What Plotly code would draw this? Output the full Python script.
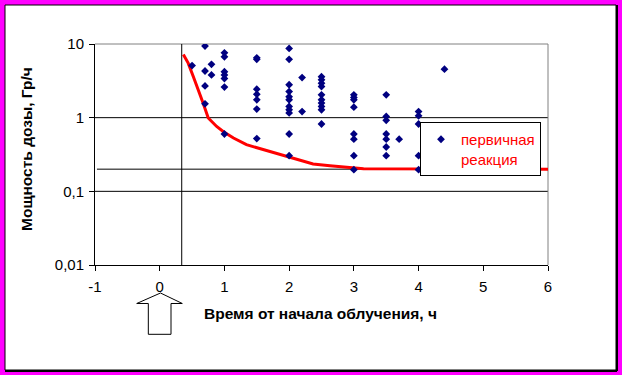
import plotly.graph_objects as go

# ---- data ----
scatter_x = [0.5,
             0.7, 0.7, 0.7, 0.7,
             0.8, 0.8,
             1.0, 1.0, 1.0, 1.0, 1.0, 1.0, 1.0,
             1.5, 1.5, 1.5, 1.5, 1.5, 1.5, 1.5,
             2.0, 2.0, 2.0, 2.0, 2.0, 2.0, 2.0, 2.0, 2.0, 2.0, 2.0,
             2.2, 2.2,
             2.5, 2.5, 2.5, 2.5, 2.5, 2.5, 2.5, 2.5, 2.5, 2.5,
             3.0, 3.0, 3.0, 3.0, 3.0, 3.0, 3.0, 3.0,
             3.5, 3.5, 3.5, 3.5, 3.5, 3.5, 3.5,
             3.7,
             4.0, 4.0, 4.0, 4.0, 4.0,
             4.4]
scatter_y = [5.1,
             9.4, 4.3, 2.7, 1.54,
             5.3, 3.8,
             7.6, 6.7, 4.2, 3.8, 3.4, 2.6, 0.6,
             6.5, 6.2, 2.44, 2.08, 1.75, 1.31, 0.52,
             8.7, 6.2, 2.8, 2.26, 1.93, 1.75, 1.42, 1.28, 1.16, 0.6, 0.305,
             3.5, 1.21,
             3.6, 3.26, 2.94, 2.64, 2.04, 1.75, 1.58, 1.42, 1.28, 0.82,
             2.04, 1.88, 1.75, 1.39, 0.6, 0.51, 0.305, 0.197,
             2.04, 1.04, 0.92, 0.6, 0.51, 0.40, 0.305,
             0.51,
             1.21, 1.06, 0.82, 0.305, 0.197,
             4.55]

curve_x = [0.365, 0.44, 0.52, 0.60, 0.67, 0.75, 0.88, 0.98, 1.14, 1.34, 1.55,
           1.76, 2.01, 2.12, 2.37, 2.63, 2.89, 3.15, 6.0]
curve_y = [7.2, 5.5, 3.6, 2.39, 1.58, 0.99, 0.76, 0.65, 0.53, 0.43, 0.38,
           0.34, 0.29, 0.27, 0.235, 0.223, 0.212, 0.202, 0.2]

x_ticks = [-1, 0, 1, 2, 3, 4, 5, 6]
x_tick_text = ["-1", "0", "1", "2", "3", "4", "5", "6"]
y_ticks = [0.01, 0.1, 1, 10]
y_tick_text = ["0,01", "0,1", "1", "10"]

legend_name = "первичная<br>реакция"
x_title = "Время от начала облучения, ч"
y_title = "Мощность дозы, Гр/ч"

onset_x = 0.34      # vertical marker line
threshold_y = 0.2   # horizontal threshold line

# ---- layout geometry ----
W, H = 622, 375
ML, MR, MT, MB = 95, 74, 44, 110
PW, PH = W - ML - MR, H - MT - MB


def px(p):
    return (p - ML) / PW


def py(p):
    return (H - MB - p) / PH


FONT = "Liberation Sans, Arial, sans-serif"

fig = go.Figure()

fig.add_trace(go.Scatter(
    x=curve_x, y=curve_y, mode="lines",
    line=dict(color="#FF0000", width=3),
    showlegend=False, hoverinfo="skip"))

fig.add_trace(go.Scatter(
    x=scatter_x, y=scatter_y, mode="markers", name=legend_name,
    marker=dict(symbol="diamond", size=6, color="#000080",
                line=dict(width=0))))

shapes = []
# chart frame (white area with black border) on magenta background
shapes.append(dict(type="rect", xref="paper", yref="paper", layer="below",
                   x0=px(5), x1=px(616), y0=py(370), y1=py(5),
                   fillcolor="white", line=dict(color="black", width=1)))
shapes.append(dict(type="line", xref="paper", yref="paper", layer="below",
                   x0=px(617), x1=px(617), y0=py(371), y1=py(5),
                   line=dict(color="black", width=2)))
shapes.append(dict(type="line", xref="paper", yref="paper", layer="below",
                   x0=px(5), x1=px(617), y0=py(371), y1=py(371),
                   line=dict(color="black", width=2)))
# gridlines at 1 and 0.1
for gv in [1, 0.1]:
    shapes.append(dict(type="line", xref="paper", yref="y", layer="below",
                       x0=0, x1=1, y0=gv, y1=gv,
                       line=dict(color="black", width=1)))
# plot area border top/right (gray)
shapes.append(dict(type="line", xref="paper", yref="paper", layer="below",
                   x0=0, x1=1, y0=1, y1=1, line=dict(color="#808080", width=1)))
shapes.append(dict(type="line", xref="paper", yref="paper", layer="below",
                   x0=1, x1=1, y0=0, y1=1, line=dict(color="#808080", width=1)))
# threshold line at 0.2
shapes.append(dict(type="line", xref="x", yref="y", layer="below",
                   x0=-0.97, x1=6, y0=threshold_y, y1=threshold_y,
                   line=dict(color="black", width=1)))
# vertical line
shapes.append(dict(type="line", xref="x", yref="paper", layer="below",
                   x0=onset_x, x1=onset_x, y0=0, y1=1,
                   line=dict(color="black", width=1)))
# hollow up arrow under x = 0
arrow_pts = [(160.5, 293), (182.3, 303.5), (171, 303.5), (171, 334.3),
             (148.3, 334.3), (148.3, 303.5), (136.7, 303.5)]
path = "M " + " L ".join(f"{px(a):.4f},{py(b):.4f}" for a, b in arrow_pts) + " Z"
shapes.append(dict(type="path", xref="paper", yref="paper", path=path,
                   fillcolor="white", line=dict(color="black", width=1)))

fig.update_layout(
    width=W, height=H,
    margin=dict(l=ML, r=MR, t=MT, b=MB, pad=0),
    paper_bgcolor="#FF00FF",
    plot_bgcolor="rgba(0,0,0,0)",
    font=dict(family=FONT, size=15, color="black"),
    shapes=shapes,
    showlegend=True,
    legend=dict(x=px(420), y=py(122), xanchor="left", yanchor="top",
                bgcolor="white", bordercolor="black", borderwidth=1,
                font=dict(family=FONT, size=15, color="#FF0000"),
                valign="top"),
    xaxis=dict(range=[-1, 6], tickvals=x_ticks, ticktext=x_tick_text,
               showgrid=False, zeroline=False,
               showline=True, linecolor="black", linewidth=1,
               ticks="outside", ticklen=5, tickcolor="black",
               ticklabelstandoff=3,
               tickfont=dict(family=FONT, size=15)),
    yaxis=dict(type="log", range=[-2, 1], tickvals=y_ticks, ticktext=y_tick_text,
               showgrid=False, zeroline=False,
               showline=True, linecolor="black", linewidth=1,
               ticks="outside", ticklen=5, tickcolor="black",
               ticklabelstandoff=2,
               tickfont=dict(family=FONT, size=15)),
    annotations=[
        dict(text=f"<b>{x_title}</b>", xref="paper", yref="paper",
             x=px(320), y=py(313), xanchor="center", yanchor="middle",
             showarrow=False,
             font=dict(family=FONT, size=15.5, color="black")),
        dict(text=f"<b>{y_title}</b>", xref="paper", yref="paper",
             x=px(26), y=py(149), xanchor="center", yanchor="middle",
             showarrow=False, textangle=-90,
             font=dict(family=FONT, size=15.5, color="black")),
    ],
)

fig.write_html("out.html",
               config={"displayModeBar": False},
               post_script="document.body.style.margin='0';"
                           "document.body.style.overflow='hidden';")
